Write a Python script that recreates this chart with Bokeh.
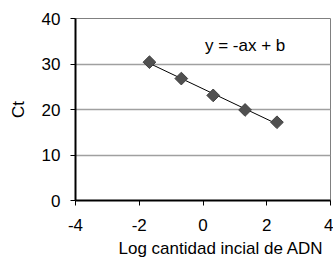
import numpy as np
from bokeh.plotting import figure
from bokeh.models import Range1d, FixedTicker, CustomJSTickFormatter, Title
from bokeh.core.properties import value
from bokeh.embed import file_html
from bokeh.resources import INLINE

log_qty = [-1.68, -0.68, 0.32, 1.32, 2.32]
ct = [30.4, 26.8, 23.1, 19.9, 17.2]
x_ticks = [-4, -2, 0, 2, 4]
y_ticks = [0, 10, 20, 30, 40]
equation = "y = -ax + b"
x_title = "Log cantidad incial  de ADN"
y_title = "Ct"

FONT = "Liberation Sans"
FS = "17px"

p = figure(width=333, height=262, output_backend="svg", toolbar_location=None,
           x_range=Range1d(-4, 4), y_range=Range1d(0, 40),
           min_border_left=75, min_border_right=3, min_border_top=18, min_border_bottom=62)
p.background_fill_color = "white"
p.border_fill_color = "white"
p.outline_line_color = "#808080"
p.outline_line_width = 1

p.xgrid.visible = False
p.ygrid.grid_line_color = "#a0a0a0"
p.ygrid.grid_line_width = 1.5
p.ygrid.ticker = FixedTicker(ticks=y_ticks)

p.xaxis.ticker = FixedTicker(ticks=x_ticks)
p.yaxis.ticker = FixedTicker(ticks=y_ticks)
for ax in (p.xaxis[0], p.yaxis[0]):
    ax.formatter = CustomJSTickFormatter(code="return String(tick);")
    ax.axis_line_color = "black"
    ax.axis_line_width = 2
    ax.major_tick_line_color = "black"
    ax.major_tick_line_width = 1
    ax.major_tick_in = 0
    ax.major_tick_out = 5
    ax.minor_tick_line_color = None
    ax.major_label_text_font = FONT
    ax.major_label_text_font_size = FS
    ax.major_label_text_color = "black"
    ax.axis_label_text_font = FONT
    ax.axis_label_text_font_size = FS
    ax.axis_label_text_font_style = "normal"
    ax.axis_label_text_color = "black"

p.xaxis.major_label_standoff = 13
p.yaxis.major_label_standoff = 10
p.yaxis.axis_label = y_title
p.yaxis.axis_label_standoff = 11

# x-axis title, shifted right as in the original
p.add_layout(Title(text=x_title, align="left", offset=43, text_font=FONT,
                   text_font_size=FS, text_font_style="normal", text_color="black",
                   standoff=6), "below")

# linear trend line
xs = np.array(log_qty)
slope, intercept = np.polyfit(xs, np.array(ct), 1)
line_x = [xs.min(), xs.max()]
line_y = [slope * v + intercept for v in line_x]
p.line(line_x, line_y, line_color="black", line_width=1)

p.scatter(log_qty, ct, marker="square", size=9, angle=np.pi / 4,
          fill_color="#505050", line_color="#404040", line_width=1)

p.text(x=[1.32], y=[34.0], text=[equation], text_font=value(FONT),
       text_font_size=FS, text_color="black", text_align="center",
       text_baseline="middle")

open("out.html", "w").write(file_html(p, INLINE))
